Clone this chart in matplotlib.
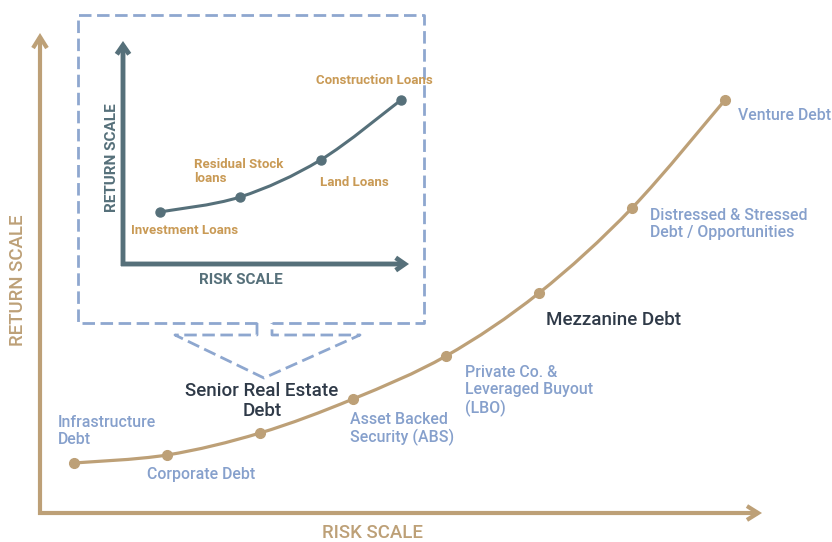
import numpy as np
import matplotlib
matplotlib.use('Agg')
import matplotlib.pyplot as plt
from matplotlib.path import Path
from matplotlib.patches import PathPatch

# main curve: debt types on a risk / return scale
debt_types = ['Infrastructure Debt', 'Corporate Debt', 'Senior Real Estate Debt',
              'Asset Backed Security (ABS)', 'Private Co. & Leveraged Buyout (LBO)',
              'Mezzanine Debt', 'Distressed & Stressed Debt / Opportunities', 'Venture Debt']
risk = [1, 2, 3, 4, 5, 6, 7, 8]
ret = [1.0, 1.16, 1.6, 2.28, 3.14, 4.4, 6.1, 8.26]

# inset: real estate loans
loan_types = ['Investment Loans', 'Residual Stock loans', 'Land Loans', 'Construction Loans']
inset_risk = [1, 2, 3, 4]
inset_ret = [2.6, 3.35, 5.2, 8.2]

TAN = '#BDA077'
BLUE = '#86A0CC'
DARK = '#2F3A48'
SLATE = '#56707A'
ORANGE = '#C99A55'
DASH = '#8EA7CF'

plt.rcParams['font.family'] = ['Roboto', 'DejaVu Sans']

W, H = 832, 542
fig = plt.figure(figsize=(W / 100, H / 100), dpi=100)

# background axes in pixel coordinates for the drawing furniture
bg = fig.add_axes([0, 0, 1, 1])
bg.set_xlim(0, W)
bg.set_ylim(H, 0)
bg.axis('off')


def smooth(ax, xs, ys, **kw):
    # catmull-rom through the points, drawn as cubic bezier
    p = np.column_stack([xs, ys]).astype(float)
    p_ext = np.vstack([p[0], p, p[-1]])
    verts = [p[0]]
    codes = [Path.MOVETO]
    for i in range(1, len(p_ext) - 2):
        p0, p1, p2, p3 = p_ext[i - 1], p_ext[i], p_ext[i + 1], p_ext[i + 2]
        verts += [p1 + (p2 - p0) / 6, p2 - (p3 - p1) / 6, p2]
        codes += [Path.CURVE4] * 3
    ax.add_patch(PathPatch(Path(verts, codes), fill=False, **kw))


def arrow(ax, start, end, color, lw, hw, hl):
    ax.annotate('', xy=end, xytext=start,
                arrowprops=dict(arrowstyle='->, head_width=%s, head_length=%s' % (hw, hl),
                                color=color, lw=lw, shrinkA=0, shrinkB=0,
                                joinstyle='miter', capstyle='butt'))


# main axes arrows
arrow(bg, (40, 515), (40, 33), TAN, 3.0, 0.5, 0.8)
arrow(bg, (38, 513), (762, 513), TAN, 3.0, 0.5, 0.8)
bg.text(18, 280, 'RETURN SCALE', rotation=90, color=TAN, fontsize=13.4,
        fontweight='medium', ha='center', va='center')
bg.text(373, 533, 'RISK SCALE', color=TAN, fontsize=13.4,
        fontweight='medium', ha='center', va='center')

# main data axes: origin at pixel (40, 513)
ax = fig.add_axes([40 / W, 29 / H, 720 / W, 478 / H])
ax.set_xlim(1 - 34 / 93, 1 - 34 / 93 + 720 / 93)
ax.set_ylim(0, 478 / 50)
ax.axis('off')
smooth(ax, risk, ret, color=TAN, lw=2.3, capstyle='round')
ax.plot(risk, ret, 'o', color=TAN, markersize=7, zorder=5)

# labels of the main curve
blue_kw = dict(color=BLUE, fontsize=11.4, fontweight='medium', linespacing=1.2)
bg.text(58, 431, 'Infrastructure\nDebt', ha='left', va='center', **blue_kw)
bg.text(147, 474, 'Corporate Debt', ha='left', va='center', **blue_kw)
bg.text(350, 429, 'Asset Backed\nSecurity (ABS)', ha='left', va='center', **blue_kw)
bg.text(465, 391, 'Private Co. &\nLeveraged Buyout\n(LBO)', ha='left', va='center', **blue_kw)
bg.text(650, 224, 'Distressed & Stressed\nDebt / Opportunities', ha='left', va='center', **blue_kw)
bg.text(738, 115, 'Venture Debt', ha='left', va='center', **blue_kw)

dark_kw = dict(color=DARK, fontsize=13.5, fontweight='medium', linespacing=1.15)
bg.text(262, 401, 'Senior Real Estate\nDebt', ha='center', va='center', **dark_kw)
bg.text(546, 320, 'Mezzanine Debt', ha='left', va='center', **dark_kw)

# dashed callout box
dash_kw = dict(color=DASH, lw=2.0, ls=(0, (4.5, 2)))
bg.plot([257, 78, 78, 424, 424, 272], [323, 323, 15, 15, 323, 323], **dash_kw)
bg.plot([257, 257, 175, 264, 360, 272, 272], [323, 335, 335, 378, 335, 335, 323], **dash_kw)

# inset arrows
arrow(bg, (123, 266), (123, 41), SLATE, 3.5, 0.45, 0.65)
arrow(bg, (121, 264), (409, 264), SLATE, 3.5, 0.45, 0.65)
bg.text(112, 158, 'RETURN SCALE', rotation=90, color=SLATE, fontsize=11,
        fontweight='bold', ha='center', va='center')
bg.text(241, 280, 'RISK SCALE', color=SLATE, fontsize=11,
        fontweight='bold', ha='center', va='center')

# inset data axes: origin at pixel (123, 264)
ins = fig.add_axes([123 / W, (H - 264) / H, 284 / W, 220 / H])
ins.set_xlim((123 - 79) / 80.5, (123 - 79) / 80.5 + 284 / 80.5)
ins.set_ylim(0, 11)
ins.axis('off')
smooth(ins, inset_risk, inset_ret, color=SLATE, lw=2.2, capstyle='round')
ins.plot(inset_risk, inset_ret, 'o', color=SLATE, markersize=6.5, zorder=5)

org_kw = dict(color=ORANGE, fontsize=9.5, fontweight='bold', linespacing=1.1)
bg.text(131, 230, 'Investment Loans', ha='left', va='center', **org_kw)
bg.text(194, 171, 'Residual Stock\nloans', ha='left', va='center', **org_kw)
bg.text(320, 182, 'Land Loans', ha='left', va='center', **org_kw)
bg.text(316, 80, 'Construction Loans', ha='left', va='center', **org_kw)

fig.savefig('out.png', dpi=100, facecolor='white')
